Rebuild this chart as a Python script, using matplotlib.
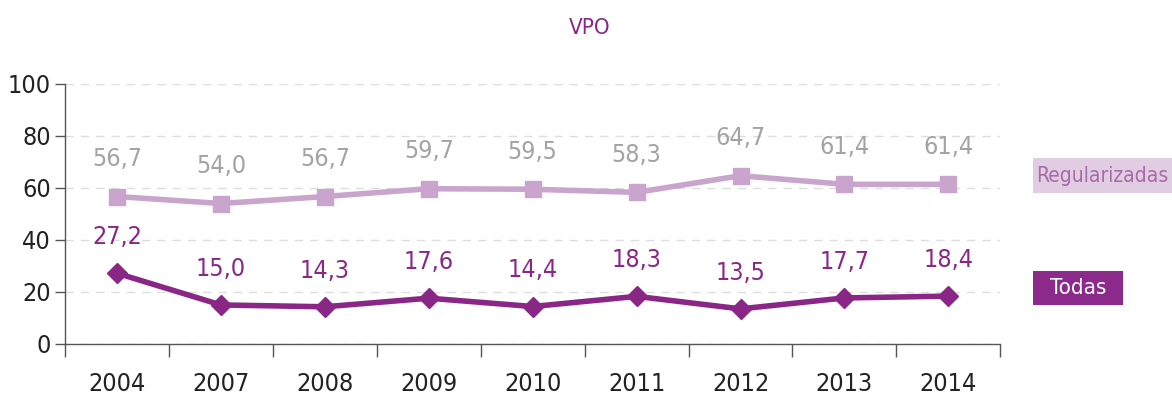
import matplotlib.pyplot as plt
from matplotlib.patches import Rectangle

# datos VPO
years = ['2004', '2007', '2008', '2009', '2010', '2011', '2012', '2013', '2014']
regularizadas = [56.7, 54.0, 56.7, 59.7, 59.5, 58.3, 64.7, 61.4, 61.4]
todas = [27.2, 15.0, 14.3, 17.6, 14.4, 18.3, 13.5, 17.7, 18.4]

light = '#c9a4cd'
dark = '#8a2786'

plt.rcParams['font.family'] = ['DejaVu Sans']
plt.rcParams['font.stretch'] = 'condensed'

W, H = 1172, 394
fig = plt.figure(figsize=(W / 100, H / 100), dpi=100)
ax = fig.add_axes([0.0555, 0.127, 0.798, 0.66])

x = list(range(len(years)))
ax.plot(x, regularizadas, color=light, lw=4, marker='s', ms=11, zorder=3)
ax.plot(x, todas, color=dark, lw=4, marker='D', ms=10, zorder=3)

for i in x:
    ax.annotate(f'{regularizadas[i]:.1f}'.replace('.', ','), (i, regularizadas[i]),
                xytext=(0, 27), textcoords='offset points', ha='center', va='center',
                fontsize=18, color='#a3a3a3')
    ax.annotate(f'{todas[i]:.1f}'.replace('.', ','), (i, todas[i]),
                xytext=(0, 26), textcoords='offset points', ha='center', va='center',
                fontsize=18, color=dark)

ax.set_xlim(-0.5, len(years) - 0.5)
ax.set_ylim(0, 100)
ax.set_yticks(range(0, 101, 20))
ax.yaxis.grid(True, color='#dddddd', ls=(0, (6, 5)), lw=1)
ax.set_axisbelow(True)

# etiquetas de años centradas, marcas entre categorías
ax.set_xticks(x)
ax.set_xticklabels(years)
ax.set_xticks([i - 0.5 for i in range(len(years) + 1)], minor=True)
ax.tick_params(axis='x', which='major', length=0, pad=20, labelsize=18, labelcolor='#222222')
ax.tick_params(axis='x', which='minor', length=9, width=1, color='#555555', direction='out')
ax.tick_params(axis='y', length=7, width=1, color='#555555', labelsize=18, labelcolor='#222222', pad=3)

for s in ['top', 'right']:
    ax.spines[s].set_visible(False)
for s in ['left', 'bottom']:
    ax.spines[s].set_color('#555555')
    ax.spines[s].set_linewidth(1)

fig.text(590 / W, 1 - 28 / H, 'VPO', ha='center', va='center', fontsize=16, color=dark)


# cajas de leyenda a la derecha
def caja(x0, y0, x1, y1, fc, texto, color, size):
    fig.patches.append(Rectangle((x0 / W, 1 - y1 / H), (x1 - x0) / W, (y1 - y0) / H,
                                 transform=fig.transFigure, fc=fc, ec='none'))
    fig.text((x0 + x1) / 2 / W, 1 - (y0 + y1) / 2 / H, texto, ha='center', va='center',
             fontsize=size, color=color)


caja(1033, 158, 1172, 193, '#e0cde2', 'Regularizadas', '#a96aa9', 15)
caja(1033, 271, 1123, 305, '#8b2a8b', 'Todas', 'white', 16)

fig.savefig('out.png', dpi=100)
